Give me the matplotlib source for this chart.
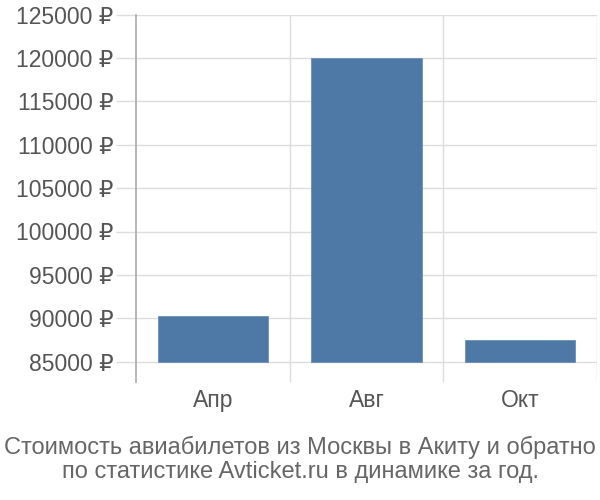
import matplotlib
matplotlib.use("Agg")
import matplotlib.pyplot as plt
from matplotlib.ticker import FuncFormatter

categories = ["Апр", "Авг", "Окт"]
prices = [90300, 120000, 87500]
yticks = [85000, 90000, 95000, 100000, 105000, 110000, 115000, 120000, 125000]
title_lines = ["Стоимость авиабилетов из Москвы в Акиту и обратно",
               "по статистике Avticket.ru в динамике за год."]

plt.rcParams['font.family'] = ['Liberation Sans', 'DejaVu Sans']

fig = plt.figure(figsize=(6, 5), dpi=100)
ax = fig.add_axes([136/600, 1 - 381.7/500, (597-136)/600, (381.7-14.5)/500])

base = 85000
x = list(range(len(categories)))
ax.bar(x, [p - base for p in prices], bottom=base, width=0.72,
       color="#4e79a7", edgecolor="#6a8fba", linewidth=0.6, zorder=3)

ax.set_xlim(-0.5, len(categories) - 0.5)
ymin = base - 20/8.68*1000
ax.set_ylim(ymin, 125000)
ax.set_yticks(yticks)
ax.yaxis.set_major_formatter(FuncFormatter(lambda v, p: f"{int(v)} ₽"))
ax.set_xticks(x)
ax.set_xticklabels(categories)

# vertical grid lines at category boundaries
for b in [0.5, 1.5, 2.5]:
    ax.axvline(b, color="#dddddd", linewidth=1, zorder=1)
for t in yticks:
    ax.axhline(t, color="#dddddd", linewidth=1, zorder=1)

for s in ["top", "right", "bottom"]:
    ax.spines[s].set_visible(False)
ax.spines["left"].set_color("#aaaaaa")
ax.spines["left"].set_linewidth(1.2)

ax.tick_params(axis="y", length=14.4, color="#dddddd", width=1, pad=2,
               labelsize=16.5, labelcolor="#555555")
ax.tick_params(axis="x", length=0, pad=5, labelsize=16.5, labelcolor="#555555")

fig.text(0.5, 1 - 447/500, title_lines[0], ha="center", va="center",
         fontsize=17, color="#666666")
fig.text(0.5, 1 - 472/500, title_lines[1], ha="center", va="center",
         fontsize=17, color="#666666")

fig.savefig("out.png", dpi=100)
